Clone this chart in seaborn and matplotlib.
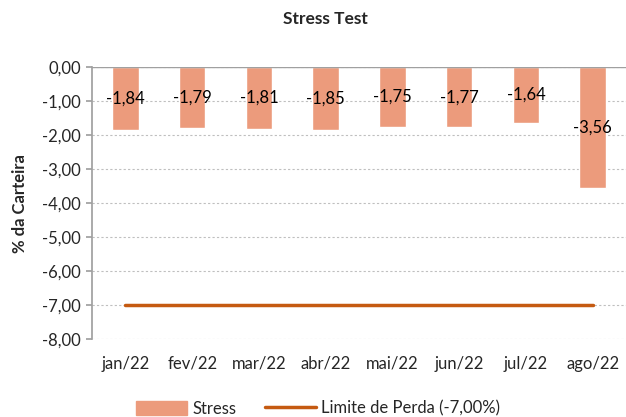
import pandas as pd
import matplotlib.pyplot as plt
import seaborn as sns
from matplotlib.patches import Patch
from matplotlib.lines import Line2D

meses = ["jan/22", "fev/22", "mar/22", "abr/22", "mai/22", "jun/22", "jul/22", "ago/22"]
stress = [-1.84, -1.79, -1.81, -1.85, -1.75, -1.77, -1.64, -3.56]
limite = [-7.00] * len(meses)

BAR_COLOR = "#EC9B7C"
LINE_COLOR = "#C55A11"

sns.set_theme(style="white")
plt.rcParams["font.family"] = ["Lato", "DejaVu Sans"]

df = pd.DataFrame({"mes": meses, "stress": stress, "limite": limite})

fig = plt.figure(figsize=(6.26, 4.17), dpi=100)
ax = fig.add_axes([0.147, 0.187, 0.853, 0.652])

sns.barplot(data=df, x="mes", y="stress", color=BAR_COLOR, width=0.4, saturation=1, ax=ax)
sns.lineplot(data=df, x="mes", y="limite", color=LINE_COLOR, linewidth=2.5, ax=ax)

# data labels centred inside the bars
for i, v in enumerate(stress):
    ax.text(i, v / 2, f"{v:.2f}".replace(".", ","), ha="center", va="center", fontsize=12, color="black")

ax.set_ylim(-8, 0)
ax.set_yticks(range(-8, 1))
ax.set_yticklabels([f"{t:.2f}".replace(".", ",") for t in range(-8, 1)], fontsize=12)
ax.tick_params(axis="x", labelsize=12, length=0, pad=12)
ax.tick_params(axis="y", length=4, left=True, color="#A0A0A0", pad=4)
ax.set_xlim(-0.5, len(meses) - 0.5)
ax.yaxis.grid(True, linestyle=(0, (2, 2)), color="#BFBFBF", linewidth=0.8)
ax.set_axisbelow(True)
for s in ["top", "right", "bottom"]:
    ax.spines[s].set_visible(False)
ax.spines["left"].set_color("#A0A0A0")
ax.axhline(0, color="#A0A0A0", linewidth=1)

ax.set_xlabel("")
ax.set_ylabel("% da Carteira", fontsize=12, fontweight="bold", labelpad=10)
fig.text(0.52, 0.955, "Stress Test", ha="center", va="center", fontsize=12.5, fontweight="bold")

handles = [Patch(color=BAR_COLOR), Line2D([0], [0], color=LINE_COLOR, linewidth=2.5)]
fig.legend(handles, ["Stress", "Limite de Perda (-7,00%)"], loc="center", bbox_to_anchor=(0.508, 0.02),
           ncol=2, frameon=False, fontsize=12, handlelength=3.1, handleheight=0.9, columnspacing=1.7, handletextpad=0.3)

fig.savefig("out.png", dpi=100)
